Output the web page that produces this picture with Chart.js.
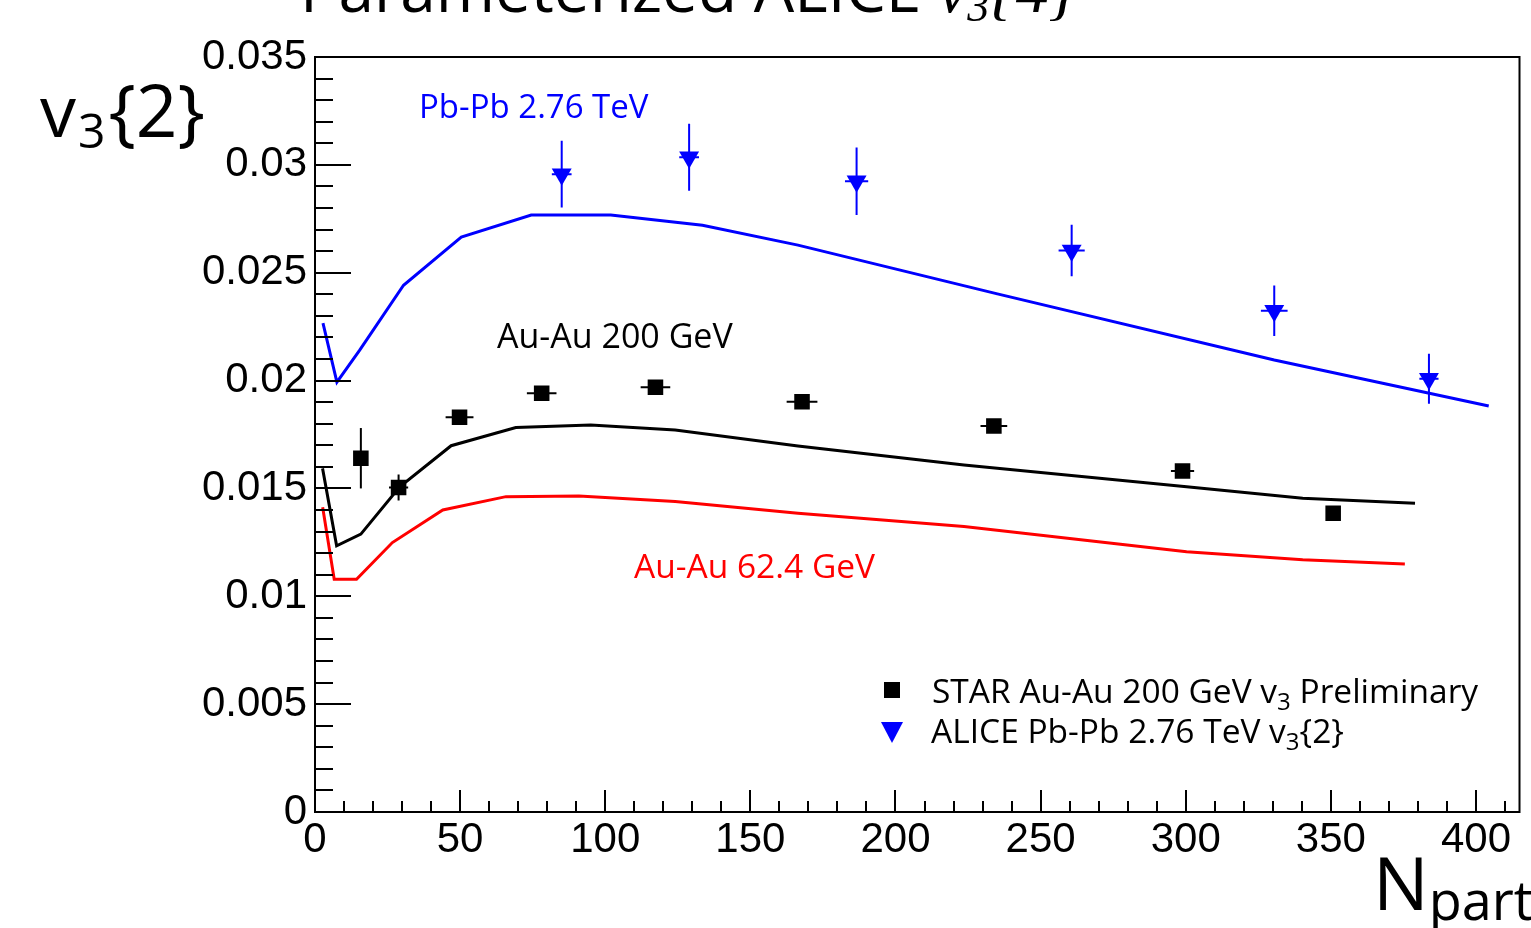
<!DOCTYPE html>
<html>
<head>
<meta charset="utf-8">
<script src="https://cdn.jsdelivr.net/npm/chart.js@4.4.1/dist/chart.umd.min.js"></script>
<style>
  html, body { margin: 0; padding: 0; background: #fff; }
  canvas { display: block; }
</style>
</head>
<body>
<canvas id="grafico" width="1531" height="928"></canvas>
<script>
// --- curves (hydro parameterisation) ---
const npartPbPb = [2.75, 7.55, 15.4, 30.5, 50.4, 74.5, 101.9, 133.5, 166.4, 235.1, 330.5, 404.4];
const v3PbPb    = [0.02266, 0.01993, 0.02141, 0.02442, 0.02665, 0.02767, 0.02767, 0.02720, 0.02628, 0.02402, 0.02095, 0.01882];

const npartAu200 = [2.6, 7.45, 15.8, 29.2, 46.9, 69.2, 95.0, 124.1, 166.4, 223.6, 300.3, 340.3, 379.0];
const v3Au200    = [0.01593, 0.01234, 0.01288, 0.01507, 0.01698, 0.01782, 0.01794, 0.01771, 0.01697, 0.01609, 0.01508, 0.01454, 0.01431];

const npartAu62 = [2.64, 6.62, 14.31, 26.66, 44.03, 65.79, 90.94, 124.1, 166.4, 223.6, 300.3, 340.3, 375.5];
const v3Au62    = [0.01413, 0.01079, 0.01079, 0.01249, 0.01400, 0.01462, 0.01465, 0.01439, 0.01385, 0.01323, 0.01207, 0.01169, 0.01150];

// --- measured points ---
const npartStar = [15.8, 28.8, 49.8, 78.1, 117.3, 167.8, 233.9, 298.9, 350.8];
const v3Star    = [0.0164, 0.01504, 0.0183, 0.01941, 0.01969, 0.01902, 0.01789, 0.01581, 0.01385];
const v3StarErr = [0.0014, 0.0006, 0.0002, 0.0002, 0.0002, 0.0002, 0.0002, 0.0002, 0];
const npartStarErr = [0, 3.3, 4.8, 5.1, 5.1, 5.3, 4.6, 4.0, 0];

const npartAlice = [85.0, 128.9, 186.6, 260.7, 330.5, 383.8];
const v3Alice    = [0.02957, 0.03035, 0.02924, 0.02603, 0.02324, 0.02008];
const v3AliceErr = [0.00155, 0.00155, 0.00157, 0.00119, 0.00117, 0.00116];
const npartAliceErr = [3.4, 3.4, 4.0, 4.5, 4.6, 3.3];

// --- axis ---
const xTickValues = [0, 50, 100, 150, 200, 250, 300, 350, 400];
const yTickLabels = ["0", "0.005", "0.01", "0.015", "0.02", "0.025", "0.03", "0.035"];

const BLUE = "#0000ff";
const RED = "#ff0000";
const SANS = "'Open Sans'";

function pares(xs, ys) {
    return xs.map((x, i) => ({ x: x, y: ys[i] }));
}

// draws text pieces one after another (for subscripts)
function textoRico(ctx, x, y, partes, cor) {
    ctx.fillStyle = cor;
    ctx.textBaseline = "alphabetic";
    ctx.textAlign = "left";
    partes.forEach(p => {
        ctx.font = (p.italic ? "italic " : "") + p.size + "px " + (p.family || SANS);
        ctx.fillText(p.t, x, y + (p.dy || 0));
        x += ctx.measureText(p.t).width + (p.gap || 0);
    });
}

const barrasErro = {
    id: "barrasErro",
    beforeDatasetsDraw(chart) {
        const { ctx, scales: { x, y } } = chart;
        ctx.save();
        ctx.lineWidth = 2;
        const desenha = (xs, ys, ex, ey, cor) => {
            ctx.strokeStyle = cor;
            xs.forEach((v, i) => {
                const px = x.getPixelForValue(v);
                const py = y.getPixelForValue(ys[i]);
                ctx.beginPath();
                if (ey[i] > 0) {
                    ctx.moveTo(px, y.getPixelForValue(ys[i] - ey[i]));
                    ctx.lineTo(px, y.getPixelForValue(ys[i] + ey[i]));
                }
                if (ex[i] > 0) {
                    ctx.moveTo(x.getPixelForValue(v - ex[i]), py);
                    ctx.lineTo(x.getPixelForValue(v + ex[i]), py);
                }
                ctx.stroke();
            });
        };
        desenha(npartStar, v3Star, npartStarErr, v3StarErr, "#000");
        desenha(npartAlice, v3Alice, npartAliceErr, v3AliceErr, BLUE);
        ctx.restore();
    }
};

const moldura = {
    id: "moldura",
    afterDraw(chart) {
        const { ctx, chartArea: { left, right, top, bottom }, scales: { x, y } } = chart;
        ctx.save();
        ctx.strokeStyle = "#000";
        ctx.lineWidth = 2;

        // ticks pointing inside, ROOT style
        ctx.beginPath();
        for (let v = 0; v <= 0.0350001; v += 0.001) {
            const py = Math.round(y.getPixelForValue(v));
            const major = Math.abs(v / 0.005 - Math.round(v / 0.005)) < 1e-6;
            ctx.moveTo(left, py);
            ctx.lineTo(left + (major ? 36 : 18), py);
        }
        for (let v = 0; v <= 415; v += 10) {
            const px = Math.round(x.getPixelForValue(v));
            const major = v % 50 === 0;
            ctx.moveTo(px, bottom);
            ctx.lineTo(px, bottom - (major ? 22 : 11));
        }
        ctx.stroke();
        ctx.strokeRect(left, top, right - left, bottom - top);

        // titulo (cortado no topo)
        textoRico(ctx, 300, 12, [
            { t: "Parameterized ALICE ", size: 64 },
            { t: "v", size: 66, italic: true, family: "'Liberation Serif'" },
            { t: "3", size: 44, dy: 9, italic: true, family: "'Liberation Serif'" },
            { t: "{4}", size: 66, italic: true, family: "'Liberation Serif'" }
        ], "#000");

        // eixo y
        textoRico(ctx, 40, 137, [
            { t: "v", size: 72, gap: 2 },
            { t: "3", size: 48, dy: 11, gap: 3 },
            { t: "{2}", size: 73 }
        ], "#000");

        // eixo x
        textoRico(ctx, 1373, 910, [
            { t: "N", size: 74, gap: 0 },
            { t: "part", size: 54, dy: 10 }
        ], "#000");

        // rotulos das curvas
        textoRico(ctx, 419, 118, [{ t: "Pb-Pb 2.76 TeV", size: 33 }], BLUE);
        textoRico(ctx, 497, 348, [{ t: "Au-Au 200 GeV", size: 34 }], "#000");
        textoRico(ctx, 634, 578, [{ t: "Au-Au 62.4 GeV", size: 33.5 }], RED);

        // legenda
        ctx.fillStyle = "#000";
        ctx.fillRect(884, 682, 16, 16);
        ctx.fillStyle = BLUE;
        ctx.beginPath();
        ctx.moveTo(881, 722);
        ctx.lineTo(903, 722);
        ctx.lineTo(892, 743);
        ctx.closePath();
        ctx.fill();

        textoRico(ctx, 932, 703, [
            { t: "STAR Au-Au 200 GeV v", size: 33.5 },
            { t: "3", size: 24, dy: 7 },
            { t: " Preliminary", size: 33.5 }
        ], "#000");
        textoRico(ctx, 931, 743, [
            { t: "ALICE Pb-Pb 2.76 TeV v", size: 33.5 },
            { t: "3", size: 24, dy: 7 },
            { t: "{2}", size: 33.5 }
        ], "#000");

        ctx.restore();
    }
};

document.addEventListener("DOMContentLoaded", () => {
    const ctx = document.getElementById("grafico").getContext("2d");

    new Chart(ctx, {
        type: "scatter",
        data: {
            datasets: [
                {
                    label: "Pb-Pb 2.76 TeV",
                    data: pares(npartPbPb, v3PbPb),
                    showLine: true, borderColor: BLUE, borderWidth: 3,
                    pointRadius: 0, tension: 0
                },
                {
                    label: "Au-Au 200 GeV",
                    data: pares(npartAu200, v3Au200),
                    showLine: true, borderColor: "#000", borderWidth: 3,
                    pointRadius: 0, tension: 0
                },
                {
                    label: "Au-Au 62.4 GeV",
                    data: pares(npartAu62, v3Au62),
                    showLine: true, borderColor: RED, borderWidth: 3,
                    pointRadius: 0, tension: 0
                },
                {
                    label: "STAR Au-Au 200 GeV v3 Preliminary",
                    data: pares(npartStar, v3Star),
                    pointStyle: "rect", pointRadius: 11,
                    backgroundColor: "#000", borderColor: "#000", borderWidth: 0
                },
                {
                    label: "ALICE Pb-Pb 2.76 TeV v3{2}",
                    data: pares(npartAlice, v3Alice),
                    pointStyle: "triangle", rotation: 180, pointRadius: 11.5,
                    backgroundColor: BLUE, borderColor: BLUE, borderWidth: 0
                }
            ]
        },
        options: {
            responsive: false,
            animation: false,
            devicePixelRatio: 1,
            layout: { padding: { top: 57, right: 6, bottom: 0, left: 0 } },
            plugins: {
                legend: { display: false },
                tooltip: { enabled: false },
                title: { display: false }
            },
            scales: {
                x: {
                    type: "linear",
                    min: 0, max: 415,
                    grid: { display: false, drawTicks: false },
                    border: { display: false },
                    afterBuildTicks: s => { s.ticks = xTickValues.map(v => ({ value: v })); },
                    afterFit: s => { s.height = 116; },
                    ticks: {
                        autoSkip: false, maxRotation: 0, padding: 3,
                        color: "#000",
                        font: { family: "'Liberation Sans'", size: 42 }
                    }
                },
                y: {
                    type: "linear",
                    min: 0, max: 0.035,
                    grid: { display: false, drawTicks: false },
                    border: { display: false },
                    afterBuildTicks: s => { s.ticks = yTickLabels.map(t => ({ value: parseFloat(t) })); },
                    afterFit: s => { s.width = 315; },
                    ticks: {
                        autoSkip: false, padding: 8,
                        color: "#000",
                        font: { family: "'Liberation Sans'", size: 42 },
                        callback: (v, i) => yTickLabels[i]
                    }
                }
            }
        },
        plugins: [barrasErro, moldura]
    });
});
</script>
</body>
</html>
